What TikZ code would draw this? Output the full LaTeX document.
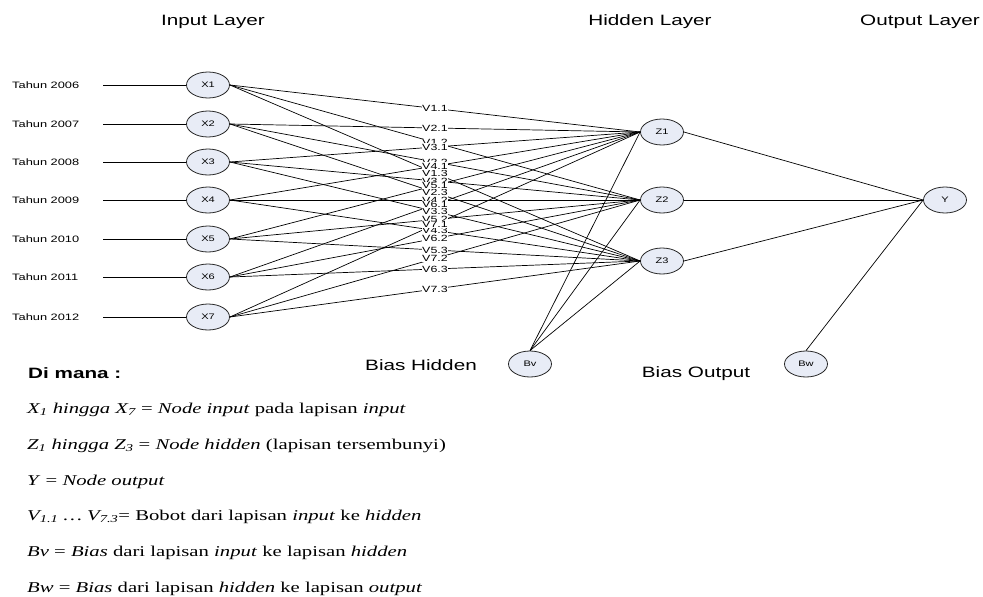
\documentclass[tikz,border=0pt]{standalone}
\usepackage{fontspec}
\usetikzlibrary{shapes.geometric}
\newfontfamily\arx[FakeStretch=1.38]{Liberation Sans}
\newfontfamily\tmx[FakeStretch=1.38]{Liberation Serif}
\definecolor{nodefill}{HTML}{E8ECF6}
\begin{document}
\begin{tikzpicture}[x=1pt,y=-1pt,
  neuron/.style={ellipse, draw=black!85, fill=nodefill, line width=0.8pt, minimum width=43pt, minimum height=26pt, inner sep=0pt, font=\arx\fontsize{8}{9}\selectfont},
  conn/.style={draw=black, line width=0.7pt},
  wlab/.style={fill=white, inner sep=0.6pt, font=\arx\fontsize{9}{10}\selectfont},
  title/.style={font=\arx\fontsize{15}{18}\selectfont, anchor=base, inner sep=0pt},
  yearlab/.style={font=\arx\fontsize{9.3}{11}\selectfont, anchor=west, inner sep=0pt},
  legend/.style={font=\tmx\fontsize{15}{18}\selectfont, anchor=base west, inner sep=0pt}]
\useasboundingbox (0,0) rectangle (983,597);
% titles
\node[title] (tin) at (213,25) {Input Layer};
\node[title] (thid) at (650,25) {Hidden Layer};
\node[title] (tout) at (920,25) {Output Layer};
% input layer
\foreach \i/\y/\yr in {1/85/2006,2/124/2007,3/162/2008,4/200/2009,5/239/2010,6/277/2011,7/317/2012}{
  \node[yearlab] (t\i) at (12,\y) {Tahun \yr};
  \coordinate (s\i) at (103,\y);
  \node[neuron] (x\i) at (208,\y) {X\i};
  \draw[conn] (s\i) -- (x\i);
}
% hidden layer
\node[neuron] (z1) at (662,132) {Z1};
\node[neuron] (z2) at (662,200) {Z2};
\node[neuron] (z3) at (662,261) {Z3};
% output
\node[neuron] (y) at (945,200) {Y};
% biases
\node[neuron] (bv) at (530,364) {Bv};
\node[neuron] (bw) at (806,364) {Bw};
% connections input -> hidden
\foreach \i in {1,...,7}{
  \foreach \j in {1,2,3}{
    \draw[conn] (x\i.east) -- (z\j.west);
  }
}
% weight labels
\foreach \i/\j in {1/2,1/3,2/2,2/3,3/2,3/3,4/2,4/3,5/2,1/1,2/1,3/1,4/1,5/1,6/1,7/1,6/2,7/2,5/3,6/3,7/3}{
  \path (x\i.east) -- (z\j.west) node[wlab, pos=0.5] {V\i.\j};
}
% bias hidden
\foreach \j in {1,2,3}{
  \draw[conn] (bv.north) -- (z\j.west);
  \draw[conn] (z\j.east) -- (y.west);
}
\draw[conn] (bw.north) -- (y.west);
\node[title] (lbh) at (421,370) {Bias Hidden};
\node[title] (lbo) at (696,377) {Bias Output};
% legend
\node[anchor=base west, inner sep=0pt, font=\arx\bfseries\fontsize{15}{18}\selectfont] (dm) at (28,378) {Di mana :};
\node[legend] (l1) at (27,413) {\textit{X\textsubscript{1} hingga X\textsubscript{7}} = \textit{Node input} pada lapisan \textit{input}};
\node[legend] (l2) at (27,449) {\textit{Z\textsubscript{1} hingga Z\textsubscript{3}} = \textit{Node hidden} (lapisan tersembunyi)};
\node[legend] (l3) at (27,485) {\textit{Y} = \textit{Node output}};
\node[legend] (l4) at (27,520) {\textit{V\textsubscript{1.1} … V\textsubscript{7.3}}= Bobot dari lapisan \textit{input} ke \textit{hidden}};
\node[legend] (l5) at (27,556) {\textit{Bv} = \textit{Bias} dari lapisan \textit{input} ke lapisan \textit{hidden}};
\node[legend] (l6) at (27,592) {\textit{Bw} = \textit{Bias} dari lapisan \textit{hidden} ke lapisan \textit{output}};
\end{tikzpicture}
\end{document}
